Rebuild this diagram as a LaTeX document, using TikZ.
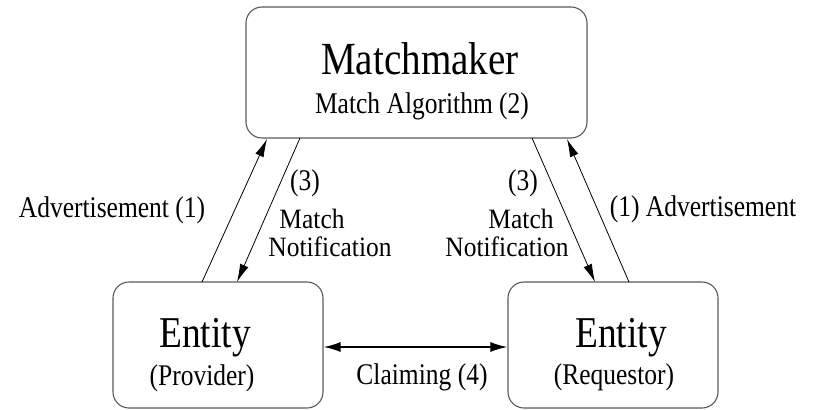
\documentclass[tikz,border=0pt]{standalone}
\usepackage{fontspec}
\setmainfont{Liberation Serif}
\usetikzlibrary{arrows.meta}
\newcommand{\sx}[1]{\scalebox{0.85}[1]{#1}}
\newcommand{\sxn}[1]{\scalebox{0.91}[1]{#1}}
\tikzset{
  box/.style={draw=black!65, line width=1.1pt, rounded corners=16pt, inner sep=0pt},
  big/.style={font=\fontsize{46}{46}\selectfont, inner sep=0pt, anchor=base},
  small/.style={font=\fontsize{30}{30}\selectfont, inner sep=0pt, anchor=base},
  narrow/.style={font=\fontsize{28}{28}\selectfont, inner sep=0pt, anchor=base},
  conn/.style={line width=0.8pt, -{Latex[length=18pt,width=9pt]}},
  claim/.style={line width=1.8pt, {Latex[length=17pt,width=10pt]}-{Latex[length=17pt,width=10pt]}}
}
\begin{document}
\begin{tikzpicture}[x=1pt,y=-1pt]
\useasboundingbox (0,0) rectangle (815,410);
% boxes
\node[box, minimum width=341pt, minimum height=131pt] (mm) at (416.5,72.5) {};
\node[box, minimum width=210pt, minimum height=126pt] (prov) at (218,345) {};
\node[box, minimum width=210pt, minimum height=126pt] (req) at (613,345) {};
% texts
\node[big] (t1) at (420,74) {\sx{Matchmaker}};
\node[small] (t2) at (422,113) {\sx{Match Algorithm (2)}};
\node[big, font=\fontsize{44}{44}\selectfont] (t3) at (205,347) {\sx{Entity}};
\node[small] (t4) at (202,385) {\sx{(Provider)}};
\node[big, font=\fontsize{44}{44}\selectfont] (t5) at (621,347) {\sx{Entity}};
\node[small] (t6) at (614,384) {\sx{(Requestor)}};
\node[small] (t7) at (422,384) {\sx{Claiming (4)}};
\node[small] (t8) at (112,217) {\sx{Advertisement (1)}};
\node[small] (t9) at (703,216) {\sx{(1) Advertisement}};
\node[small] (t10) at (305,190) {\sx{(3)}};
\node[narrow] (t11) at (312,228) {\sxn{Match}};
\node[narrow] (t12) at (330,256) {\sxn{Notification}};
\node[small] (t13) at (523,190) {\sx{(3)}};
\node[narrow] (t14) at (521,228) {\sxn{Match}};
\node[narrow] (t15) at (507,256) {\sxn{Notification}};
% connector end points
\coordinate (a1s) at (202,282);
\coordinate (a1e) at (267,139);
\coordinate (n1s) at (300,138);
\coordinate (n1e) at (237,282);
\coordinate (n2s) at (532,138);
\coordinate (n2e) at (595,282);
\coordinate (a2s) at (629,282);
\coordinate (a2e) at (567,139);
% connectors
\draw[conn] (a1s) -- (a1e);
\draw[conn] (n1s) -- (n1e);
\draw[conn] (n2s) -- (n2e);
\draw[conn] (a2s) -- (a2e);
\draw[claim] (prov.east |- 0,347) -- (req.west |- 0,347);
\end{tikzpicture}
\end{document}
